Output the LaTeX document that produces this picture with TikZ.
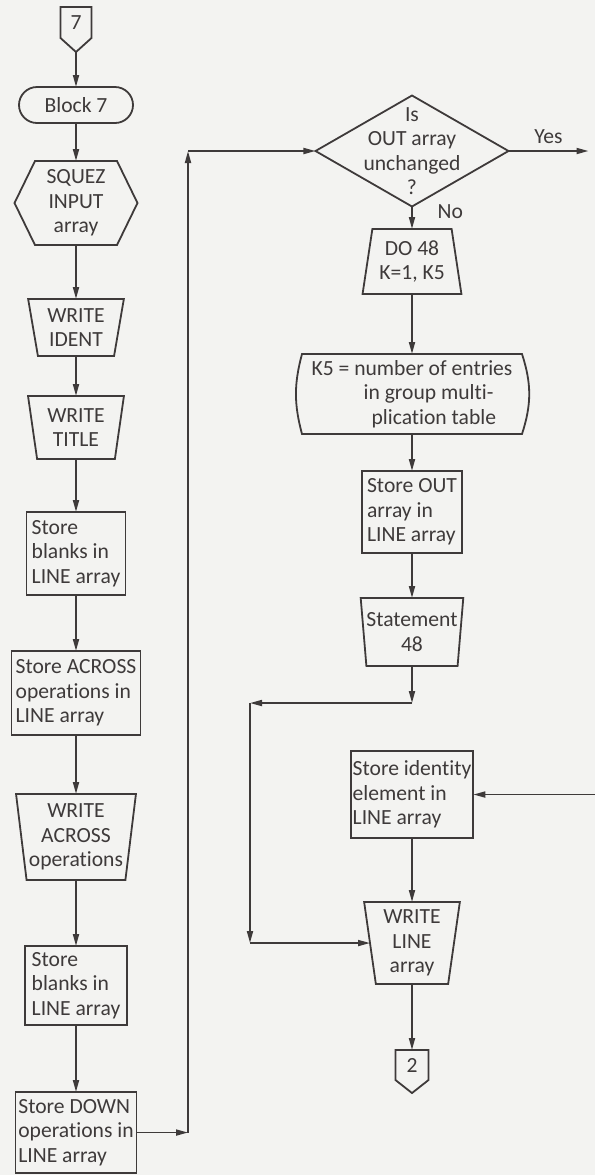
\documentclass[tikz,border=0pt]{standalone}
\usepackage{fontspec}
\setmainfont{Carlito}[Ligatures=NoCommon]
\usepackage{tikz}
\usetikzlibrary{arrows.meta, positioning, shapes.geometric, shapes.misc}
\definecolor{ink}{RGB}{62,58,58}
\definecolor{paper}{RGB}{243,243,241}

\begin{document}
\begin{tikzpicture}[
   -{Triangle[length=6pt, width=3pt]},
   line width=0.9pt, color=ink,
   font=\fontsize{10.8pt}{12.25pt}\selectfont,
   procbox/.style = {rectangle, draw, align=left, inner xsep=1pt, inner ysep=1pt, outer sep=0pt},
   io/.style = {trapezium, draw, trapezium stretches=true, align=center, inner sep=0pt, outer sep=0pt},
   bare/.style = {rectangle, align=center, inner sep=0pt, outer sep=0pt}]
   \useasboundingbox (0,0) rectangle (297.5pt,-587.5pt);
   \fill[paper] (0,0) rectangle (297.5pt,-587.5pt);

   \node[bare, minimum width=15.5pt, minimum height=15.5pt] (c7) at (38pt,-11.25pt) {7};
   \coordinate[below=7pt of c7.south] (c7tip);
   \draw[-] (c7.north west) -- (c7.north east) -- (c7.south east) -- (c7tip) -- (c7.south west) -- cycle;
   \node[rounded rectangle, draw, inner sep=0pt, outer sep=0pt, minimum width=57pt, minimum height=18pt, below=24.5pt of c7] (blk7) {Block 7};
   \node[bare, minimum width=41pt, minimum height=42pt, below=19pt of blk7] (squez) {SQUEZ\\INPUT\\array};
   \draw[-] (squez.north west) -- (squez.north east) -- ([xshift=10.25pt]squez.east) -- (squez.south east)
      -- (squez.south west) -- ([xshift=-10.25pt]squez.west) -- cycle;
   \node[io, trapezium angle=100.9, minimum width=48pt, minimum height=28.5pt, below=27pt of squez] (wident) {WRITE\\IDENT};
   \node[io, trapezium angle=99.9, minimum width=48pt, minimum height=31.5pt, below=20pt of wident] (wtitle) {WRITE\\TITLE};
   \node[procbox, minimum width=49.5pt, minimum height=41.5pt, below=26.5pt of wtitle] (sblank1) {Store\\blanks in\\LINE array};
   \node[procbox, minimum width=64.5pt, minimum height=42pt, below=28pt of sblank1] (sacross) {Store ACROSS\\operations in\\LINE array};
   \node[io, trapezium angle=98.6, minimum width=60pt, minimum height=43pt, below=29.5pt of sacross] (wacross) {WRITE\\ACROSS\\operations};
   \node[procbox, minimum width=51pt, minimum height=39.5pt, below=33pt of wacross] (sblank2) {Store\\blanks in\\LINE array};
   \node[procbox, minimum width=60.5pt, minimum height=40.5pt, below=33.5pt of sblank2] (sdown) {Store DOWN\\operations in\\LINE array};

   \draw (c7tip) -- (blk7);
   \draw (blk7) -- (squez);
   \draw (squez) -- (wident);
   \draw (wident) -- (wtitle);
   \draw (wtitle) -- (sblank1);
   \draw (sblank1) -- (sacross);
   \draw (sacross) -- (wacross);
   \draw (wacross) -- (sblank2);
   \draw (sblank2) -- (sdown);

   \node[diamond, draw, aspect=1.74, inner sep=0pt, outer sep=0pt, minimum width=96.5pt, minimum height=55.5pt,
      label={[align=center, inner sep=0pt]center:Is\\OUT array\\unchanged\\?}] (isout) at (206pt,-75.5pt) {};
   \node[io, trapezium angle=79.1, minimum width=49.5pt, minimum height=32.5pt, below=11.25pt of isout] (do48) {DO 48\\K=1, K5};
   \node[bare, align=left, minimum width=110pt, minimum height=40pt, below=30pt of do48] (k5)
      {K5 = number of entries\\\hspace*{26pt}in group multi-\\\hspace*{30pt}plication table};
   \draw[-] (k5.north west) to[bend right=15] (k5.south west) -- (k5.south east) to[bend right=18] (k5.north east) -- cycle;
   \node[procbox, minimum width=50pt, minimum height=41pt, below=18.5pt of k5] (sout) {Store OUT\\array in\\LINE array};
   \node[io, trapezium angle=98.4, minimum width=49.5pt, minimum height=34pt, below=22.5pt of sout] (st48) {Statement\\48};
   \coordinate[below=18.5pt of st48] (jmid);
   \node[procbox, minimum width=60pt, minimum height=43.5pt, below=24pt of jmid] (sidty) {Store identity\\element in\\LINE array};
   \node[io, trapezium angle=98, minimum width=48pt, minimum height=41pt, below=32pt of sidty] (wline) {WRITE\\LINE\\array};
   \node[bare, minimum width=16.5pt, minimum height=15pt, below=33pt of wline] (c2) {2};
   \coordinate[below=6.5pt of c2.south] (c2tip);
   \draw[-] (c2.north west) -- (c2.north east) -- (c2.south east) -- (c2tip) -- (c2.south west) -- cycle;

   \coordinate[right=40pt of isout.east] (yesend);
   \coordinate[left=63.75pt of isout.west] (jtop);
   \coordinate (jbot) at (jtop |- sdown);
   \coordinate[left=81pt of jmid] (jleft);
   \coordinate (jlow) at (jleft |- wline);
   \coordinate[right=61.5pt of sidty.east] (idin);

   \draw (sdown) -- (jbot);
   \draw (jbot) -- (jtop);
   \draw (jtop) -- (isout);

   \draw (isout) -- node[above]{Yes} (yesend);
   \draw (isout) -- node[right=9pt, pos=0.25]{No} (do48);
   \draw (do48) -- (k5);
   \draw (k5) -- (sout);
   \draw (sout) -- (st48);
   \draw (st48) -- (jmid);
   \draw (jmid) -- (jleft);
   \draw (jleft) -- (jlow);
   \draw (jlow) -- (wline);
   \draw (idin) -- (sidty);
   \draw (sidty) -- (wline);
   \draw (wline) -- (c2);
\end{tikzpicture}
\end{document}
